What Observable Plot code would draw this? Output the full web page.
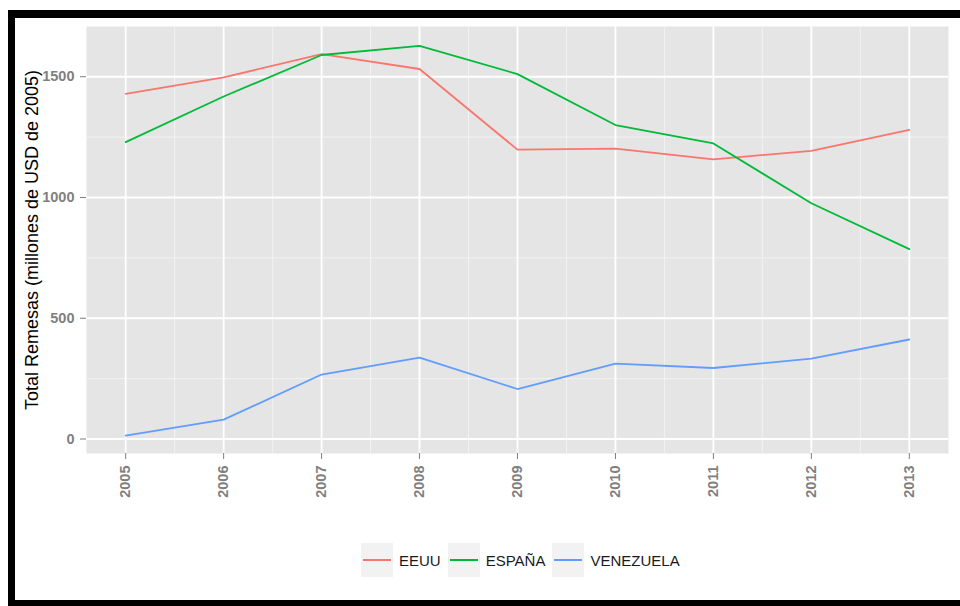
<!DOCTYPE html>
<html><head><meta charset="utf-8">
<script src="https://cdn.jsdelivr.net/npm/d3@7"></script>
<script src="https://cdn.jsdelivr.net/npm/@observablehq/plot@0.6"></script>
<style>
html,body{margin:0;padding:0;background:#fff;overflow:hidden;width:960px;height:606px;}
#wrap{position:relative;width:960px;height:606px;font-family:"Liberation Sans",Arial,sans-serif;}
#frame{position:absolute;left:8px;top:10px;width:960px;height:596px;box-sizing:border-box;border-top:8px solid #000;border-left:7px solid #000;border-bottom:6px solid #000;pointer-events:none;}
#chart{position:absolute;left:0;top:0;}
#legend{position:absolute;left:361px;top:543px;display:flex;align-items:center;gap:7px;}
.item{display:flex;align-items:center;gap:6px;}
.key{width:32px;height:34px;background:#f2f2f2;display:flex;align-items:center;justify-content:center;}
.ln{width:28px;height:2px;}
.lab{font-size:15px;color:#1a1a1a;}
</style></head>
<body><div id="wrap"><div id="chart"></div><div id="legend"></div><div id="frame"></div></div>
<script>
const years = [2005, 2006, 2007, 2008, 2009, 2010, 2011, 2012, 2013];
const series = ["EEUU", "ESPAÑA", "VENEZUELA"];
const colors = ["#F8766D", "#00BA38", "#619CFF"];
const eeuu = [1429, 1497, 1594, 1532, 1198, 1202, 1158, 1193, 1280];
const espana = [1229, 1418, 1590, 1628, 1511, 1300, 1224, 976, 786];
const venezuela = [14, 80, 267, 337, 207, 312, 294, 333, 412];
const yTicks = [0, 500, 1000, 1500];
const yMinor = [250, 750, 1250];
const yTitle = "Total Remesas (millones de USD de 2005)";

const values = [eeuu, espana, venezuela];
const rows = series.flatMap((s, k) => years.map((yr, i) => ({year: yr, serie: s, value: values[k][i]})));
const xMinor = years.slice(0, -1).map(y => y + 0.5);

const chart = Plot.plot({
  width: 960, height: 520,
  marginTop: 26, marginBottom: 67, marginLeft: 86, marginRight: 12,
  style: {fontFamily: "'Liberation Sans', Arial, sans-serif", fontSize: "14px", background: "transparent"},
  x: {domain: [2004.6, 2013.4]},
  y: {domain: [-60, 1708]},
  color: {domain: series, range: colors},
  marks: [
    Plot.frame({fill: "#e5e5e5", stroke: "none"}),
    Plot.gridX(xMinor, {stroke: "#f2f2f2", strokeOpacity: 1, strokeWidth: 1}),
    Plot.gridY(yMinor, {stroke: "#f2f2f2", strokeOpacity: 1, strokeWidth: 1}),
    Plot.gridX(years, {stroke: "#ffffff", strokeOpacity: 1, strokeWidth: 1.8}),
    Plot.gridY(yTicks, {stroke: "#ffffff", strokeOpacity: 1, strokeWidth: 1.8}),
    Plot.axisX(years, {tickFormat: d => String(d), tickRotate: -90, tickSize: 6, tickPadding: 6, color: "#7f7f7f", label: null, fontSize: 14.5, fontWeight: "bold"}),
    Plot.axisY(yTicks, {tickFormat: d => String(d), tickSize: 6, tickPadding: 6, color: "#7f7f7f", label: null, fontSize: 14.5, fontWeight: "bold"}),
    Plot.lineY(rows, {x: "year", y: "value", z: "serie", stroke: "serie", strokeWidth: 1.8}),
    Plot.text([yTitle], {text: d => d, frameAnchor: "left", textAnchor: "middle", rotate: -90, dx: -54, fontSize: 18, fill: "#000"})
  ]
});
document.getElementById("chart").appendChild(chart);

const legend = document.getElementById("legend");
series.forEach((s, k) => {
  const item = document.createElement("div");
  item.className = "item";
  item.innerHTML = `<span class="key"><span class="ln" style="background:${colors[k]}"></span></span><span class="lab">${s}</span>`;
  legend.appendChild(item);
});
</script></body></html>
